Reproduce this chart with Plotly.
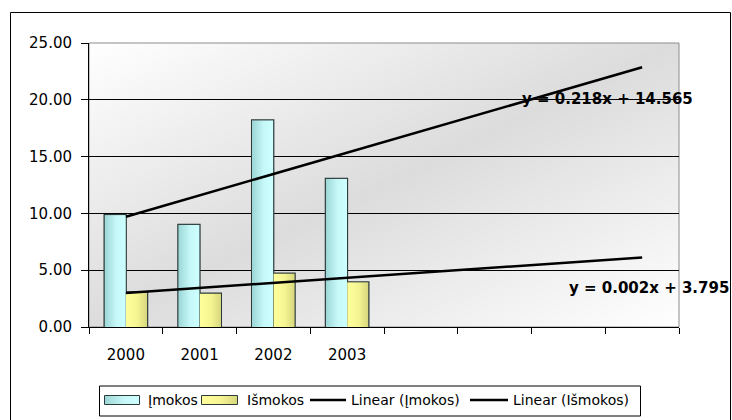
import base64
import numpy as np
import plotly.graph_objects as go

# ---- data -------------------------------------------------------------
years = ["2000", "2001", "2002", "2003"]
imokos = [9.85, 9.0, 18.2, 13.05]
ismokos = [3.05, 2.95, 4.72, 3.95]
series_names = ["Įmokos", "Išmokos"]
trend_names = ["Linear (Įmokos)", "Linear (Išmokos)"]
trend_labels = ["y = 0.218x + 14.565", "y = 0.002x + 3.795"]
n_slots = 8            # 4 observed years + 4 forecast periods on the x axis
y_ticks = [0, 5, 10, 15, 20, 25]

# ---- geometry ---------------------------------------------------------
W, H = 732, 420
ML, MR, MT, MB = 89, 53, 43, 93
PW, PH = W - ML - MR, H - MT - MB
BARGAP = 0.42
BAR_W = (1 - BARGAP) / 2


def px(x):
    """pixel x -> paper x"""
    return (x - ML) / PW


def py(y):
    """pixel y -> paper y"""
    return (H - MB - y) / PH


def svg_uri(svg):
    return "data:image/svg+xml;base64," + base64.b64encode(svg.encode()).decode()


def bar_fill(c0, c1, c2):
    """horizontal gradient face, stretched over a bar"""
    return svg_uri(
        '<svg xmlns="http://www.w3.org/2000/svg" width="100" height="100" '
        'viewBox="0 0 100 100" preserveAspectRatio="none">'
        '<defs><linearGradient id="g" x1="0" y1="0" x2="1" y2="0">'
        f'<stop offset="0" stop-color="{c0}"/>'
        f'<stop offset="0.55" stop-color="{c1}"/>'
        f'<stop offset="1" stop-color="{c2}"/>'
        '</linearGradient></defs>'
        '<rect x="0" y="0" width="100" height="100" fill="url(#g)"/></svg>'
    )


FONT = "DejaVu Sans"
C_IN = "#C3F4F4"
C_OUT = "#F2F295"
EDGE = "#2e3a3a"
FILL_IN = bar_fill("#9cd6d6", "#c6f8f8", "#ccffff")
FILL_OUT = bar_fill("#ffff9c", "#f4f492", "#d6d67e")

pos = np.arange(1, len(years) + 1)

fig = go.Figure()
images = []
for k, (name, vals, col, fill) in enumerate([
        (series_names[0], imokos, C_IN, FILL_IN),
        (series_names[1], ismokos, C_OUT, FILL_OUT)]):
    fig.add_trace(go.Bar(
        x=pos, y=vals, name=name, showlegend=False,
        marker=dict(color=col, line=dict(color=EDGE, width=2)),
    ))
    # shaded face for each bar, placed on the bar's own extent
    for p, v in zip(pos, vals):
        images.append(dict(source=fill, xref="x", yref="y",
                           x=p - BAR_W + k * BAR_W, y=v, sizex=BAR_W, sizey=v,
                           xanchor="left", yanchor="top", sizing="stretch",
                           layer="above"))

# diagonal grey gradient behind the plot area
bg_svg = (
    '<svg xmlns="http://www.w3.org/2000/svg" width="100" height="100" '
    'viewBox="0 0 100 100" preserveAspectRatio="none">'
    '<defs><linearGradient id="g" x1="0" y1="0" x2="1" y2="1">'
    '<stop offset="0" stop-color="#ffffff"/>'
    '<stop offset="0.5" stop-color="#dcdcdc"/>'
    '<stop offset="1" stop-color="#ffffff"/>'
    '</linearGradient></defs>'
    '<rect width="100" height="100" fill="url(#g)"/></svg>'
)
images.insert(0, dict(source=svg_uri(bg_svg), xref="paper", yref="paper", x=0, y=1,
                      sizex=1, sizey=1, sizing="stretch", xanchor="left",
                      yanchor="top", layer="below"))

shapes = [
    # outer chart frame
    dict(type="rect", xref="paper", yref="paper",
         x0=px(10.5), x1=px(730.5), y0=py(12.5), y1=py(440),
         line=dict(color="black", width=1), fillcolor="rgba(0,0,0,0)", layer="below"),
    # plot area frame
    dict(type="rect", xref="paper", yref="paper", x0=0, x1=1, y0=0, y1=1,
         line=dict(color="#8c8c8c", width=1), fillcolor="rgba(0,0,0,0)", layer="below"),
]

# linear trendlines fitted on the observed years, projected to the last slot
x_tr = np.array([1.0, float(n_slots)])
for vals in (imokos, ismokos):
    k, b = np.polyfit(pos, vals, 1)
    y_tr = k * x_tr + b
    shapes.append(dict(type="line", xref="x", yref="y",
                       x0=x_tr[0], y0=y_tr[0], x1=x_tr[1], y1=y_tr[1],
                       line=dict(color="black", width=2.5), layer="above"))

# legend frame
shapes.append(dict(type="rect", xref="paper", yref="paper",
                   x0=px(99.5), x1=px(640.5), y0=py(386), y1=py(416),
                   line=dict(color="black", width=1), fillcolor="rgba(0,0,0,0)",
                   layer="above"))

annotations = []
# legend entries: (swatch kind, swatch x0, swatch x1, text x, label, fill)
legend_items = [
    ("box", 104.5, 139.5, 146, series_names[0], FILL_IN),
    ("box", 201.5, 237.5, 245, series_names[1], FILL_OUT),
    ("line", 310, 346, 349, trend_names[0], "black"),
    ("line", 470, 508, 511, trend_names[1], "black"),
]
ly = 400
for kind, x0, x1, tx, label, fill in legend_items:
    if kind == "box":
        images.append(dict(source=fill, xref="paper", yref="paper",
                           x=px(x0), y=py(ly - 4.5), sizex=px(x1) - px(x0),
                           sizey=py(ly - 4.5) - py(ly + 4.5),
                           xanchor="left", yanchor="top", sizing="stretch",
                           layer="above"))
        shapes.append(dict(type="rect", xref="paper", yref="paper",
                           x0=px(x0), x1=px(x1), y0=py(ly - 4.5), y1=py(ly + 4.5),
                           line=dict(color=EDGE, width=1),
                           fillcolor="rgba(0,0,0,0)", layer="above"))
    else:
        shapes.append(dict(type="line", xref="paper", yref="paper",
                           x0=px(x0), x1=px(x1), y0=py(ly), y1=py(ly),
                           line=dict(color=fill, width=2.5), layer="above"))
    annotations.append(dict(xref="paper", yref="paper", x=px(tx), y=py(ly),
                            xanchor="left", yanchor="middle", showarrow=False,
                            text=label, font=dict(family=FONT, size=14, color="black")))

# trendline equations
annotations += [
    dict(xref="x", yref="y", x=7.53, y=20.1, text="<b>%s</b>" % trend_labels[0],
         showarrow=False, xanchor="center", yanchor="middle",
         font=dict(family=FONT, size=15, color="black")),
    dict(xref="x", yref="y", x=8.09, y=3.4, text="<b>%s</b>" % trend_labels[1],
         showarrow=False, xanchor="center", yanchor="middle",
         font=dict(family=FONT, size=15, color="black")),
]

fig.update_layout(
    width=W, height=H,
    margin=dict(l=ML, r=MR, t=MT, b=MB, pad=0),
    paper_bgcolor="white", plot_bgcolor="rgba(0,0,0,0)",
    barmode="group", bargap=BARGAP, bargroupgap=0,
    font=dict(family=FONT, size=15, color="black"),
    showlegend=False,
    shapes=shapes, annotations=annotations, images=images,
)
fig.update_xaxes(
    range=[0.5, n_slots + 0.5], tickmode="array", tickvals=pos, ticktext=years,
    ticks="", showgrid=False, zeroline=False,
    showline=True, linecolor="black", linewidth=1,
    minor=dict(tick0=0.5, dtick=1, ticks="outside", ticklen=6,
               tickcolor="black", showgrid=False),
    ticklabelstandoff=14,
    tickfont=dict(family=FONT, size=15, color="black"),
)
fig.update_yaxes(
    range=[0, 25], tickmode="array", tickvals=y_ticks, tickformat=".2f",
    ticks="outside", ticklen=7, tickcolor="black",
    showgrid=True, gridcolor="black", gridwidth=1, zeroline=False,
    showline=True, linecolor="black", linewidth=1,
    ticklabelstandoff=6,
    tickfont=dict(family=FONT, size=15, color="black"),
)

fig.write_html("out.html")
